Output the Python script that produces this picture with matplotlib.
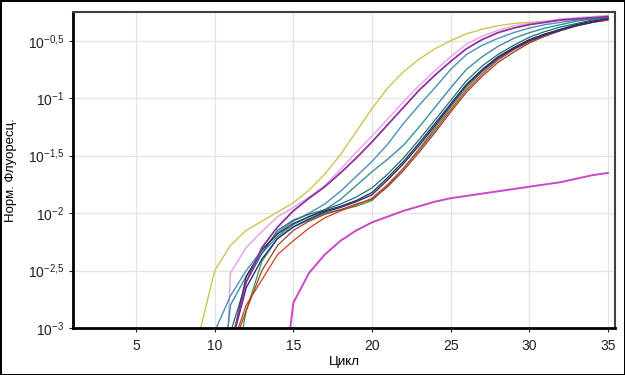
import matplotlib
matplotlib.use("Agg")
import matplotlib.pyplot as plt
import numpy as np

plt.rcParams['font.family'] = ['Liberation Sans', 'DejaVu Sans']
plt.rcParams['mathtext.fontset'] = 'custom'
plt.rcParams['mathtext.rm'] = 'Liberation Sans'
plt.rcParams['mathtext.it'] = 'Liberation Sans:italic'

# log10 of normalised fluorescence, one value per cycle, first cycle given in *_start
yellow_start = 9
yellow = [-3.06, -2.50, -2.28, -2.15, -2.07, -1.99, -1.91, -1.80, -1.66, -1.49, -1.29,
          -1.09, -0.91, -0.77, -0.66, -0.57, -0.50, -0.44, -0.40, -0.37, -0.35, -0.34,
          -0.33, -0.32, -0.31, -0.30, -0.29]

pink_start = 10
pink = [-5.7, -2.52, -2.30, -2.16, -2.03, -1.95, -1.86, -1.76, -1.62, -1.47, -1.33,
        -1.18, -1.03, -0.89, -0.76, -0.64, -0.53, -0.46, -0.41, -0.37, -0.35, -0.33,
        -0.31, -0.30, -0.29, -0.28]

purple_start = 11
purple = [-3.17, -2.60, -2.30, -2.12, -1.98, -1.87, -1.77, -1.65, -1.52, -1.38, -1.23,
          -1.08, -0.93, -0.80, -0.68, -0.57, -0.49, -0.43, -0.39, -0.36, -0.34, -0.32,
          -0.31, -0.30, -0.29]

steelblue_start = 10
steelblue = [-3.03, -2.72, -2.50, -2.32, -2.17, -2.07, -2.00, -1.92, -1.81, -1.68, -1.55,
             -1.40, -1.22, -1.06, -0.91, -0.75, -0.62, -0.54, -0.48, -0.43, -0.39, -0.36,
             -0.34, -0.32, -0.31, -0.30]

teal_start = 10
teal = [-4.13, -2.80, -2.55, -2.35, -2.20, -2.10, -2.03, -1.97, -1.88, -1.76, -1.64,
        -1.53, -1.41, -1.25, -1.08, -0.91, -0.75, -0.64, -0.55, -0.48, -0.43, -0.39,
        -0.36, -0.33, -0.31, -0.30]

darkteal_start = 11
darkteal = [-3.04, -2.60, -2.35, -2.15, -2.06, -2.01, -1.97, -1.92, -1.86, -1.78, -1.66,
            -1.52, -1.36, -1.19, -1.02, -0.85, -0.72, -0.62, -0.54, -0.47, -0.42, -0.38,
            -0.35, -0.32, -0.30]

black_start = 11
black = [-3.19, -2.55, -2.32, -2.18, -2.09, -2.03, -1.98, -1.94, -1.89, -1.82, -1.69,
         -1.55, -1.39, -1.22, -1.05, -0.88, -0.75, -0.64, -0.56, -0.49, -0.44, -0.40,
         -0.36, -0.33, -0.31]

navy_start = 11
navy = [-3.17, -2.65, -2.40, -2.22, -2.12, -2.05, -1.99, -1.95, -1.90, -1.84, -1.71,
        -1.57, -1.41, -1.24, -1.06, -0.89, -0.76, -0.65, -0.57, -0.50, -0.45, -0.41,
        -0.37, -0.34, -0.31]

red_start = 11
red = [-3.20, -2.80, -2.58, -2.36, -2.24, -2.13, -2.04, -1.98, -1.93, -1.87, -1.75,
       -1.61, -1.45, -1.28, -1.10, -0.93, -0.79, -0.67, -0.58, -0.51, -0.46, -0.41,
       -0.37, -0.34, -0.32]

brown_start = 11
brown = [-3.22, -2.85, -2.50, -2.28, -2.15, -2.07, -2.01, -1.97, -1.92, -1.88, -1.77,
         -1.63, -1.47, -1.30, -1.12, -0.95, -0.81, -0.69, -0.60, -0.52, -0.46, -0.41,
         -0.37, -0.34, -0.32]

green_start = 11
green = [-3.60, -2.85, -2.42, -2.22, -2.12, -2.06, -2.00, -1.97, -1.94, -1.89, -1.76,
         -1.61, -1.44, -1.26, -1.08, -0.91, -0.77, -0.66, -0.57, -0.50, -0.45, -0.40,
         -0.36, -0.33, -0.31]

magenta_start = 14
magenta = [-3.90, -2.78, -2.52, -2.36, -2.24, -2.15, -2.08, -2.03, -1.98, -1.94, -1.90,
           -1.87, -1.85, -1.83, -1.81, -1.79, -1.77, -1.75, -1.73, -1.70, -1.67, -1.65]

series = [
    (yellow_start, yellow, "#c8c850", 1.0),
    (pink_start, pink, "#e8a0e8", 1.0),
    (steelblue_start, steelblue, "#4a90c0", 1.0),
    (teal_start, teal, "#3a8f9f", 1.0),
    (darkteal_start, darkteal, "#1a7070", 0.9),
    (green_start, green, "#3a9a3a", 0.9),
    (brown_start, brown, "#8b4a2b", 0.9),
    (red_start, red, "#d04020", 0.9),
    (black_start, black, "#303030", 0.9),
    (navy_start, navy, "#2a2a9a", 1.0),
    (purple_start, purple, "#9030a0", 1.3),
    (magenta_start, magenta, "#c848c8", 1.4),
]

yticks = [-3, -2.5, -2, -1.5, -1, -0.5]
ytick_labels = [r"$10^{-3}$", r"$10^{-2{,}5}$", r"$10^{-2}$", r"$10^{-1{,}5}$",
                r"$10^{-1}$", r"$10^{-0{,}5}$"]
xticks = [5, 10, 15, 20, 25, 30, 35]

fig = plt.figure(figsize=(6.25, 3.75), dpi=100, edgecolor="black", linewidth=2)
ax = fig.add_axes([0.117, 0.125, 0.867, 0.843])

for start, vals, color, lw in series:
    cyc = np.arange(start, start + len(vals))
    ax.plot(cyc, 10 ** np.array(vals), color=color, lw=lw)

ax.set_yscale("log")
ax.set_xlim(1, 35.45)
ax.set_ylim(10 ** -3, 10 ** -0.25)
ax.set_yticks([10 ** v for v in yticks])
ax.set_yticklabels(ytick_labels)
ax.yaxis.set_minor_locator(matplotlib.ticker.NullLocator())
ax.set_xticks(xticks)
ax.tick_params(labelsize=10, length=3, width=0.8, colors="#202020")
ax.tick_params(axis="x", pad=5)
ax.grid(True, color="#e4e4e4", lw=1)
ax.set_axisbelow(True)

for side in ["left", "bottom"]:
    ax.spines[side].set_linewidth(2)
    ax.spines[side].set_color("black")
for side in ["top", "right"]:
    ax.spines[side].set_linewidth(1.5)
    ax.spines[side].set_color("#404040")

ax.set_xlabel("Цикл", fontsize=9.5, labelpad=2)
ax.set_ylabel("Норм. Флуоресц.", fontsize=9.5, labelpad=8)

fig.savefig("out.png", dpi=100)
